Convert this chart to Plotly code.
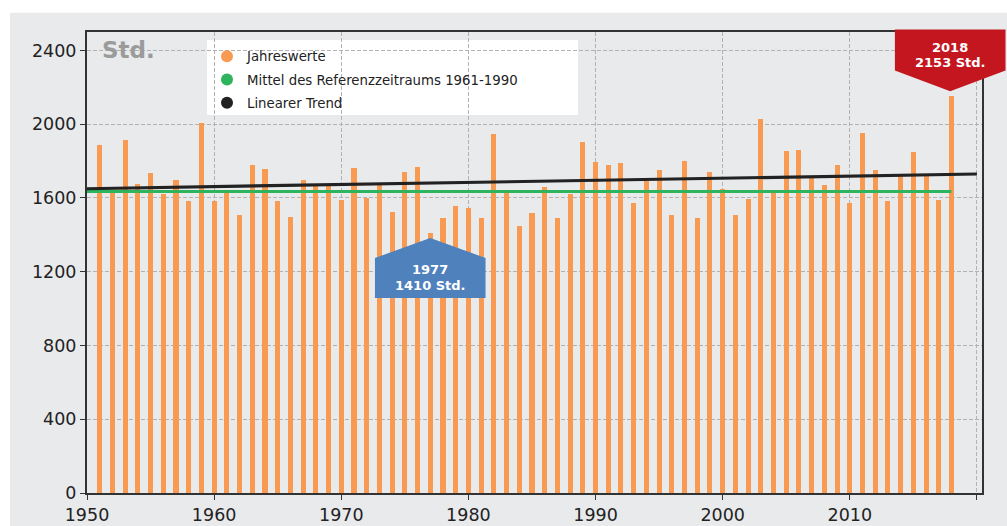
import plotly.graph_objects as go

# ---------------- data ----------------
years = list(range(1951, 2019))
sunshine_hours = [
    1888, 1629, 1917, 1676, 1733, 1620, 1695, 1586, 2004, 1586,  # 1951-1960
    1629, 1506, 1778, 1757, 1586, 1495, 1695, 1677, 1677, 1591,  # 1961-1970
    1760, 1598, 1679, 1526, 1739, 1768, 1410, 1494, 1555, 1545,  # 1971-1980
    1494, 1946, 1629, 1447, 1521, 1658, 1494, 1620, 1905, 1796,  # 1981-1990
    1778, 1791, 1573, 1692, 1750, 1510, 1802, 1494, 1739, 1647,  # 1991-2000
    1505, 1596, 2030, 1629, 1852, 1858, 1706, 1670, 1780, 1573,  # 2001-2010
    1950, 1750, 1584, 1732, 1847, 1719, 1589, 2153,              # 2011-2018
]
ref_mean_years = [1950, 2018]
ref_mean_values = [1635, 1635]
trend_years = [1950, 2020]
trend_values = [1650, 1730]

x_tick_values = [1950, 1960, 1970, 1980, 1990, 2000, 2010, 2020]
x_tick_labels = ["1950", "1960", "1970", "1980", "1990", "2000", "2010", ""]
y_tick_values = [0, 400, 800, 1200, 1600, 2000, 2400]

legend_labels = ["Jahreswerte", "Mittel des Referenzzeitraums 1961-1990", "Linearer Trend"]
unit_label = "Std."

# ---------------- style ----------------
W, H = 1007, 526
ML, MR, MT, MB = 87, 25, 32, 33
PW, PH = W - ML - MR, H - MT - MB
X0, X1 = 1950, 2020.4
Y0, Y1 = 0, 2500

ORANGE = "#f89a52"
GREEN = "#2db45c"
BLACK = "#222222"
BLUE = "#4f81bd"
RED = "#c3161f"
PANEL = "#e9eaec"
FONT = "DejaVu Sans"


def px_x(year):
    return (year - X0) / (X1 - X0)


def px_y(val):
    return (val - Y0) / (Y1 - Y0)


def pyy(pix):
    return pix / PH


fig = go.Figure()

fig.add_trace(go.Bar(
    x=years, y=sunshine_hours, width=0.4,
    marker=dict(color=ORANGE, line=dict(width=0)),
    showlegend=False, hoverinfo="x+y",
))
fig.add_trace(go.Scatter(
    x=ref_mean_years, y=ref_mean_values, mode="lines",
    line=dict(color=GREEN, width=3), showlegend=False,
))
fig.add_trace(go.Scatter(
    x=trend_years, y=trend_values, mode="lines",
    line=dict(color=BLACK, width=3.2), showlegend=False,
))

for name, col in zip(legend_labels, [ORANGE, GREEN, BLACK]):
    fig.add_trace(go.Scatter(
        x=[None], y=[None], mode="markers", name=name, legendgroup=name,
        marker=dict(color=col, size=13, symbol="circle"),
    ))

shapes = []
# grey panel
shapes.append(dict(type="rect", xref="paper", yref="paper",
                   x0=(10 - ML) / PW, x1=1.2, y0=-0.3, y1=1 + (MT - 12.7) / PH,
                   fillcolor=PANEL, line=dict(width=0), layer="below"))
# legend box
shapes.append(dict(type="rect", xref="paper", yref="paper",
                   x0=(207 - ML) / PW, x1=(578 - ML) / PW,
                   y0=1 - (115 - MT) / PH, y1=1 - (40 - MT) / PH,
                   fillcolor="white", line=dict(width=0), layer="between"))

annotations = []

# min / max callouts
i_min = sunshine_hours.index(min(sunshine_hours))
i_max = sunshine_hours.index(max(sunshine_hours))
hw = 55.3 / PW

# blue (minimum), pointing up to bar
yr, val = years[i_min], sunshine_hours[i_min]
cx = px_x(yr)
apex = px_y(val) - pyy(5)
sh = apex - pyy(20)
bot = sh - pyy(40)
shapes.append(dict(type="path", xref="paper", yref="paper",
                   path=f"M {cx-hw},{bot} L {cx+hw},{bot} L {cx+hw},{sh} L {cx},{apex} L {cx-hw},{sh} Z",
                   fillcolor=BLUE, line=dict(width=0), layer="above"))
annotations.append(dict(xref="paper", yref="paper", x=cx, y=sh - pyy(11.7), text=f"<b>{yr}</b>",
                        showarrow=False, xanchor="center", yanchor="middle",
                        font=dict(family=FONT, size=13, color="white")))
annotations.append(dict(xref="paper", yref="paper", x=cx, y=sh - pyy(27.4), text=f"<b>{val} Std.</b>",
                        showarrow=False, xanchor="center", yanchor="middle",
                        font=dict(family=FONT, size=13, color="white")))

# red (maximum), pointing down to bar
yr, val = years[i_max], sunshine_hours[i_max]
cx = px_x(yr) - 0.1 / (X1 - X0)
apex = px_y(val) + pyy(4.7)
sh = apex + pyy(20.7)
top = sh + pyy(41)
shapes.append(dict(type="path", xref="paper", yref="paper",
                   path=f"M {cx-hw},{top} L {cx+hw},{top} L {cx+hw},{sh} L {cx},{apex} L {cx-hw},{sh} Z",
                   fillcolor=RED, line=dict(width=0), layer="above"))
annotations.append(dict(xref="paper", yref="paper", x=cx, y=top - pyy(18.3), text=f"<b>{yr}</b>",
                        showarrow=False, xanchor="center", yanchor="middle",
                        font=dict(family=FONT, size=13, color="white")))
annotations.append(dict(xref="paper", yref="paper", x=cx, y=top - pyy(33.3), text=f"<b>{val} Std.</b>",
                        showarrow=False, xanchor="center", yanchor="middle",
                        font=dict(family=FONT, size=13, color="white")))

# unit label
annotations.append(dict(xref="paper", yref="y", x=(100 - ML) / PW, y=2400, text=f"<b>{unit_label}</b>",
                        showarrow=False, xanchor="left", yanchor="middle",
                        font=dict(family=FONT, size=23, color="#9b9b9b")))

axis_common = dict(
    showgrid=True, gridcolor="#b2b2b2", gridwidth=1, griddash="4px,2px",
    showline=True, linecolor="#333333", linewidth=2, mirror=True,
    ticks="outside", ticklen=5, tickcolor="#333333", tickwidth=1,
    zeroline=False, automargin=False,
    tickfont=dict(family=FONT, size=17.5, color="#222222"),
)

fig.update_layout(
    width=W, height=H,
    margin=dict(l=ML, r=MR, t=MT, b=MB, pad=0, autoexpand=False),
    paper_bgcolor="white", plot_bgcolor=PANEL,
    font=dict(family=FONT),
    xaxis=dict(range=[X0, X1], tickvals=x_tick_values, ticktext=x_tick_labels, **axis_common),
    yaxis=dict(range=[Y0, Y1], tickvals=y_tick_values, **axis_common),
    legend=dict(x=(207 - ML) / PW, y=1 - (41 - MT) / PH, xanchor="left", yanchor="top",
                bgcolor="rgba(0,0,0,0)", borderwidth=0,
                font=dict(family=FONT, size=13.3, color="#222222"),
                tracegroupgap=3, traceorder="grouped", itemsizing="constant"),
    shapes=shapes, annotations=annotations,
    bargap=0,
)

fig.write_html("out.html", config={"displayModeBar": False},
               post_script="document.body.style.margin='0';")
